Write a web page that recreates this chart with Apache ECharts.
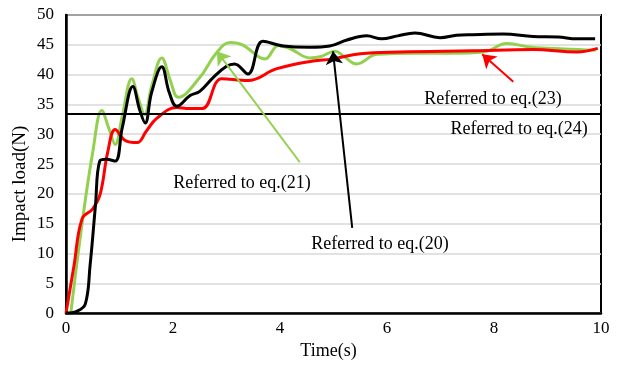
<!DOCTYPE html>
<html><head><meta charset="utf-8">
<script src="https://cdn.jsdelivr.net/npm/echarts@6/dist/echarts.min.js"></script>
<style>html,body{margin:0;padding:0;background:#fff}#c{width:622px;height:365px}</style>
</head><body><div id="c"></div>
<script>
// eq.(21) green
const green = [[0.09,0],[0.3,15],[0.5,27],[0.67,34],[0.8,31],[0.92,28.3],[1.05,33],[1.23,39.3],[1.35,36],[1.47,33.3],[1.6,38],[1.79,42.8],[1.95,39],[2.1,36.2],[2.5,39.5],[2.8,43.5],[3.07,45.4],[3.3,45],[3.72,42.6],[3.97,44.9],[4.2,44.3],[4.56,42.8],[4.75,43],[5.03,43.9],[5.2,43],[5.43,41.8],[5.81,43.4],[6.5,43.6],[7.2,43.6],[7.8,43.8],[8.24,45.2],[8.7,44.6],[9.3,44.3],[9.9,44.1]];
// eq.(20) black
const black = [[0,0],[0.2,0.3],[0.36,1.5],[0.45,8],[0.55,18],[0.63,25.5],[0.75,25.8],[0.92,25.5],[1.05,31],[1.25,38],[1.38,34],[1.48,31.9],[1.6,37],[1.79,41.3],[1.93,37],[2.07,34.7],[2.32,36.5],[2.5,37.2],[2.75,39.5],[3.0,41.4],[3.15,41.8],[3.4,40.1],[3.68,45.6],[4.06,44.8],[4.56,44.6],[4.93,44.8],[5.25,45.8],[5.62,46.5],[5.9,46],[6.2,46.5],[6.52,47],[6.99,46.2],[7.3,46.6],[7.6,46.7],[8.17,46.8],[8.73,46.4],[9.2,46.3],[9.55,46],[9.89,46]];
// eq.(23) red
const red = [[0,0],[0.15,8],[0.3,15.8],[0.5,17.5],[0.64,20],[0.78,27],[0.92,30.8],[1.1,29],[1.33,28.6],[1.5,30.5],[1.7,32.7],[2.07,34.5],[2.3,34.3],[2.55,34.3],[2.91,39.3],[3.4,39],[3.94,41],[4.62,42.3],[4.97,42.6],[5.5,43.5],[6.24,43.8],[7.6,44],[8.73,44.2],[9.55,43.8],[9.94,44.4]];
// eq.(24) constant
const eq24 = 33.4;
const xTicks = [0,2,4,6,8,10];
const yTicks = [0,5,10,15,20,25,30,35,40,45,50];
// annotations: [tailT, tailV, tipT, tipV]
const arrow21 = [4.37,25.3,2.82,43.9];
const arrow20 = [5.35,14.3,4.99,43.9];
const arrow23 = [8.36,38.8,7.78,43.4];
const labels = [[3.29,21.8,'Referred to eq.(21)'],[5.87,11.6,'Referred to eq.(20)'],[7.98,35.9,'Referred to eq.(23)'],[8.47,30.9,'Referred to eq.(24)']];

const F = 'Liberation Serif, Times New Roman, serif';
function arrowLine(a, color){
  return {coords:[[a[0],a[1]],[a[2],a[3]]], lineStyle:{color:color,width:2,type:'solid',opacity:1}};
}
const chart = echarts.init(document.getElementById('c'));
chart.setOption({
  animation:false,
  grid:{left:66,right:21,top:15,bottom:46,show:true,borderColor:'#000',borderWidth:2,backgroundColor:'transparent'},
  graphic:[{type:'text',rotation:Math.PI/2,x:20,y:184,
    style:{text:'Impact load(N)',font:'19px '+F,fill:'#000',textAlign:'center',textVerticalAlign:'middle'}}],
  xAxis:{type:'value',min:xTicks[0],max:xTicks[xTicks.length-1],interval:2,
    name:'Time(s)',nameLocation:'middle',nameGap:27,nameTextStyle:{fontFamily:F,fontSize:18,color:'#000',padding:[0,0,0,-10]},
    axisLine:{lineStyle:{color:'#000',width:2.5}},axisTick:{show:false},splitLine:{show:false},
    axisLabel:{fontFamily:F,fontSize:17,color:'#000',margin:7}},
  yAxis:{type:'value',min:yTicks[0],max:yTicks[yTicks.length-1],interval:5,
    axisLine:{show:true,lineStyle:{color:'#000',width:2.5}},axisTick:{show:false},
    splitLine:{lineStyle:{color:'#d9d9d9',width:1.5}},
    axisLabel:{fontFamily:F,fontSize:17,color:'#000',margin:12,padding:[4,0,0,0]}},
  series:[
    {type:'line',data:green,smooth:0.4,showSymbol:false,lineStyle:{color:'#92d050',width:3},z:3},
    {type:'line',data:red,smooth:0.4,showSymbol:false,lineStyle:{color:'#ff0000',width:3},z:4},
    {type:'line',data:black,smooth:0.4,showSymbol:false,lineStyle:{color:'#000',width:3},z:5},
    {type:'line',data:[],
      markLine:{silent:true,symbol:['none','none'],label:{show:false},
        data:[{yAxis:eq24,lineStyle:{color:'#000',width:2,type:'solid'}}]}},
    {type:'lines',coordinateSystem:'cartesian2d',silent:true,z:6,
      symbol:['none','arrow'],symbolSize:13,
      data:[arrowLine(arrow21,'#92d050'),arrowLine(arrow20,'#000'),arrowLine(arrow23,'#ff0000')]},
    {type:'scatter',symbolSize:1,itemStyle:{color:'transparent',opacity:1},z:7,silent:true,
      data:labels.map(l=>({value:[l[0],l[1]],name:l[2]})),
      label:{show:true,position:'inside',formatter:p=>p.name,fontFamily:F,fontSize:18,color:'#000',opacity:1}}
  ]
});
</script></body></html>
